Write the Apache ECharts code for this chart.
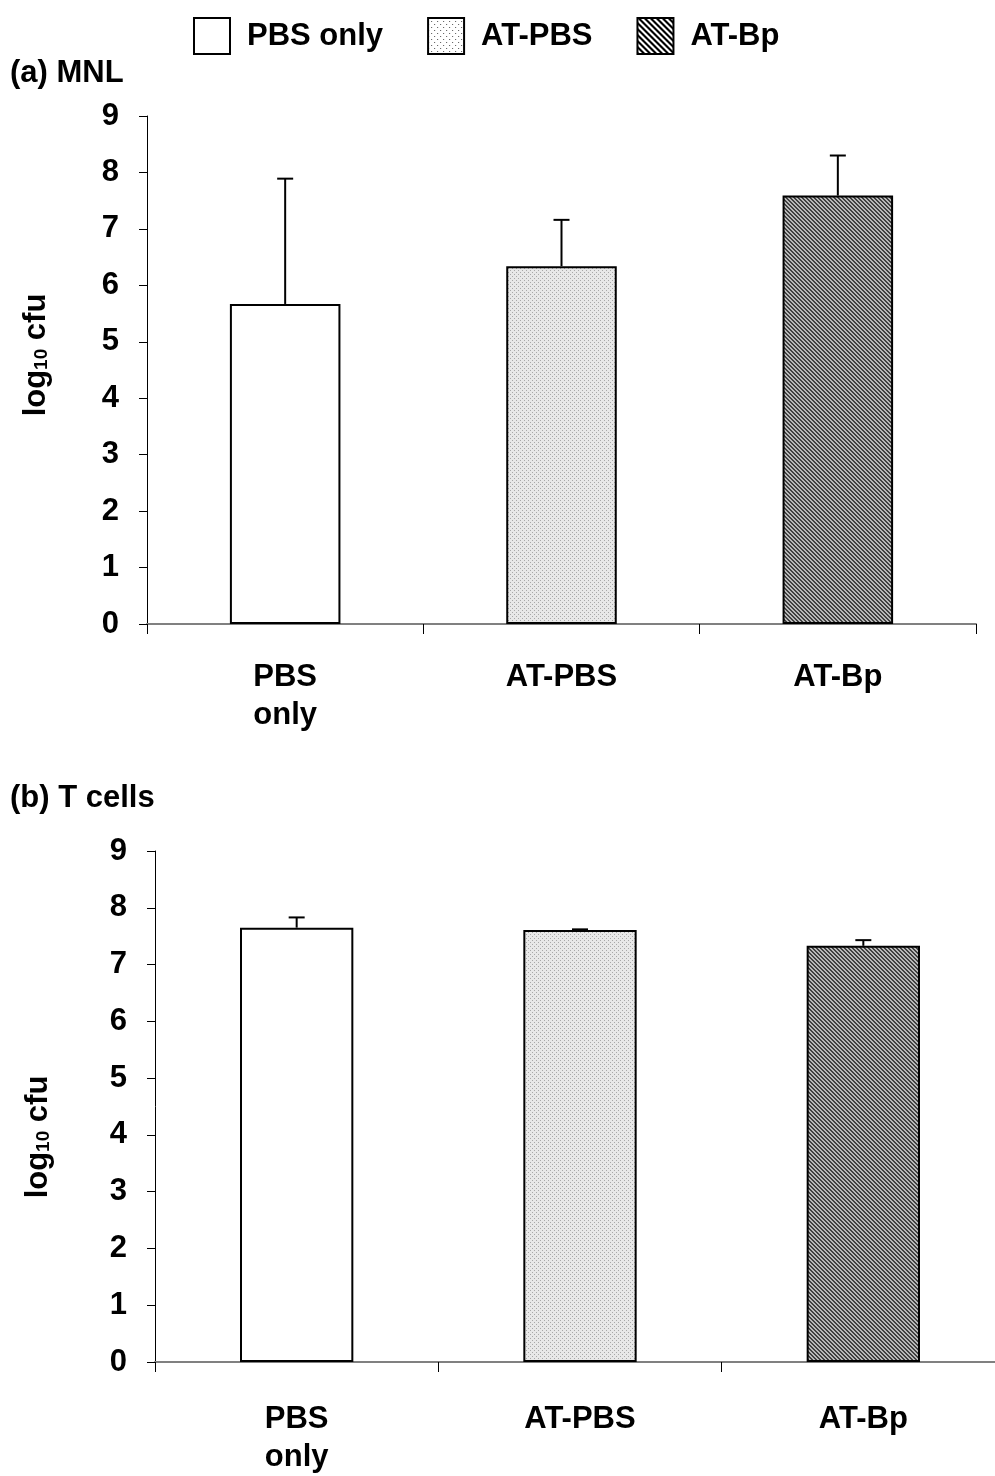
<!DOCTYPE html>
<html>
<head>
<meta charset="utf-8">
<script src="https://cdn.jsdelivr.net/npm/echarts@6/dist/echarts.min.js"></script>
<style>
  html, body { margin: 0; padding: 0; background: #fff; overflow: hidden; }
  #chart { width: 1012px; height: 1476px; }
</style>
</head>
<body>
<div id="chart"></div>
<script>
var groups = ['PBS only', 'AT-PBS', 'AT-Bp'];
var xLabels = ['PBS\nonly', 'AT-PBS', 'AT-Bp'];
var yTicks = [0, 1, 2, 3, 4, 5, 6, 7, 8, 9];
// (a) MNL
var mnlMean = [5.67, 6.34, 7.59];
var mnlErr = [7.89, 7.16, 8.30];
// (b) T cells
var tMean = [7.65, 7.61, 7.33];
var tErr = [7.83, 7.62, 7.43];

var font = '"Liberation Sans", Arial, sans-serif';
var fs = 31;

// fill patterns for the bars (fine) and the legend boxes (coarse)
function dotPattern(step, bg, dot) {
  var c = document.createElement('canvas');
  c.width = step; c.height = step;
  var g = c.getContext('2d');
  g.fillStyle = bg;
  g.fillRect(0, 0, step, step);
  g.fillStyle = dot;
  g.fillRect(0, 0, 1, 1);
  g.fillRect(step / 2, step / 2, 1, 1);
  return c;
}
function hatchPattern(step, bg, ink) {
  var c = document.createElement('canvas');
  c.width = step; c.height = step;
  var g = c.getContext('2d');
  g.fillStyle = bg;
  g.fillRect(0, 0, step, step);
  g.fillStyle = ink;
  for (var i = 0; i < step; i++) {
    for (var w = 0; w < step / 2; w++) {
      g.fillRect((i + w) % step, i, 1, 1);
    }
  }
  return c;
}
var fills = ['#ffffff',
  { image: dotPattern(4, '#e8e8e8', '#a8a8a8'), repeat: 'repeat' },
  { image: hatchPattern(4, '#b8b8b8', '#404040'), repeat: 'repeat' }];
var legendFills = ['#ffffff',
  { image: dotPattern(6, '#ffffff', '#555555'), repeat: 'repeat' },
  { image: hatchPattern(6, '#ffffff', '#000000'), repeat: 'repeat' }];

function errSeries(gridIdx, mean, err) {
  return {
    type: 'custom',
    xAxisIndex: gridIdx,
    yAxisIndex: gridIdx,
    z: 5,
    silent: true,
    data: mean.map(function (m, i) { return [i, m, err[i]]; }),
    renderItem: function (params, api) {
      var lo = api.coord([api.value(0), api.value(1)]);
      var hi = api.coord([api.value(0), api.value(2)]);
      var st = { stroke: '#000', lineWidth: 2 };
      return {
        type: 'group',
        children: [
          { type: 'line', shape: { x1: lo[0], y1: lo[1], x2: hi[0], y2: hi[1] }, style: st },
          { type: 'line', shape: { x1: hi[0] - 8, y1: hi[1], x2: hi[0] + 8, y2: hi[1] }, style: st }
        ]
      };
    }
  };
}

function barSeries(gridIdx, mean) {
  return groups.map(function (name, k) {
    return {
      name: name,
      type: 'bar',
      xAxisIndex: gridIdx,
      yAxisIndex: gridIdx,
      barWidth: '40%',
      barGap: '-100%',
      itemStyle: { color: fills[k], borderColor: '#000', borderWidth: 2 },
      data: mean.map(function (v, i) { return i === k ? v : '-'; })
    };
  });
}

function xAxis(gridIdx, margin) {
  return {
    type: 'category',
    gridIndex: gridIdx,
    data: xLabels,
    axisLine: { lineStyle: { color: '#808080', width: 2 } },
    axisTick: { show: true, alignWithLabel: false, length: 10, lineStyle: { color: '#000', width: 1 } },
    axisLabel: { margin: margin, color: '#000', fontFamily: font, fontWeight: 'bold', fontSize: fs, lineHeight: 38 }
  };
}

function yAxis(gridIdx) {
  return {
    type: 'value',
    gridIndex: gridIdx,
    min: yTicks[0],
    max: yTicks[yTicks.length - 1],
    interval: 1,
    splitLine: { show: false },
    axisLine: { show: true, lineStyle: { color: '#000', width: 1 } },
    axisTick: { show: true, length: 8, lineStyle: { color: '#000' } },
    axisLabel: { margin: 28, color: '#000', fontFamily: font, fontWeight: 'bold', fontSize: fs }
  };
}

// rotated y-axis title with subscript
function yTitle(cx, cy) {
  return {
    type: 'text',
    x: cx,
    y: cy,
    rotation: Math.PI / 2,
    style: {
      text: '{m|log}{s|10}{m| cfu}',
      align: 'center',
      verticalAlign: 'middle',
      rich: {
        m: { fontFamily: font, fontWeight: 'bold', fontSize: fs, fill: '#000' },
        s: { fontFamily: font, fontWeight: 'bold', fontSize: 19, fill: '#000', verticalAlign: 'bottom', padding: [10, 0, 0, 0] }
      }
    }
  };
}

var chart = echarts.init(document.getElementById('chart'));
chart.setOption({
  backgroundColor: '#fff',
  animation: false,
  legend: {
    data: groups.map(function (g, k) {
      return { name: g, itemStyle: { color: legendFills[k], borderColor: '#000', borderWidth: 2 } };
    }),
    top: 12,
    left: 188,
    itemWidth: 36,
    itemHeight: 36,
    itemGap: 44,
    icon: 'rect',
    textStyle: { color: '#000', fontFamily: font, fontWeight: 'bold', fontSize: fs, padding: [0, 0, 0, 12] }
  },
  graphic: [
    { type: 'text', left: 10, top: 58, style: { text: '(a) MNL', font: 'bold ' + fs + 'px ' + font, fill: '#000' } },
    { type: 'text', left: 10, top: 783, style: { text: '(b) T cells', font: 'bold ' + fs + 'px ' + font, fill: '#000' } },
    yTitle(36, 355),
    yTitle(38, 1137)
  ],
  grid: [
    { left: 147, width: 829, top: 116, height: 508 },
    { left: 155, width: 850, top: 851, height: 518 }
  ],
  xAxis: [xAxis(0, 34), xAxis(1, 38)],
  yAxis: [yAxis(0), yAxis(1)],
  series: barSeries(0, mnlMean)
    .concat(barSeries(1, tMean))
    .concat([errSeries(0, mnlMean, mnlErr), errSeries(1, tMean, tErr)])
});
</script>
</body>
</html>
